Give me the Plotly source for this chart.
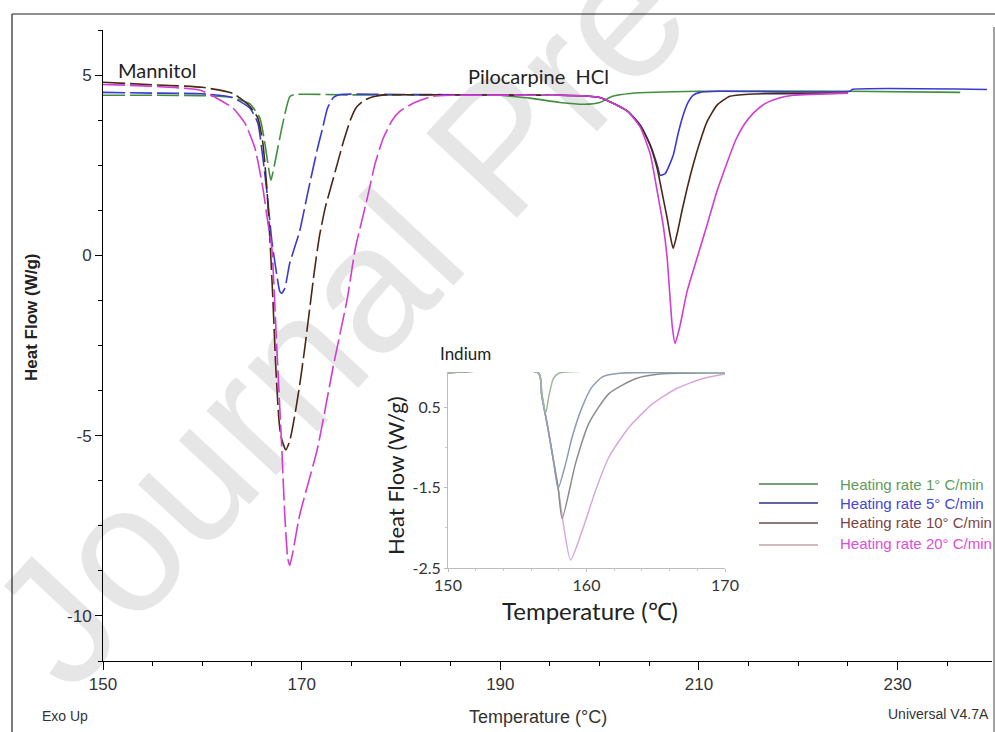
import plotly.graph_objects as go

# ---------------- data ----------------
RATES = ["Heating rate 1° C/min", "Heating rate 5° C/min",
         "Heating rate 10° C/min", "Heating rate 20° C/min"]

# main DSC curves: temperature (°C) and heat flow (W/g)
T1 = [150, 155, 160, 163, 164.8, 165.8, 166.3, 166.6, 166.9, 167.4, 168.1, 168.8, 169.3,
      175, 185, 190, 193, 196, 198.5, 200, 201.3, 203.1, 210, 225, 236.3]
H1 = [4.44, 4.44, 4.43, 4.38, 4.2, 3.8, 3.1, 2.55, 2.08, 2.7, 3.66, 4.4, 4.46,
      4.45, 4.45, 4.44, 4.36, 4.24, 4.19, 4.24, 4.41, 4.49, 4.55, 4.55, 4.52]

T5 = [150, 155, 160, 163, 164.8, 165.6, 166.1, 166.5, 167.0, 167.5, 167.8, 168.0, 168.3,
      168.8, 169.8, 170.6, 171.6, 172.1, 172.6, 173.2, 173.9, 180, 190, 196, 200, 202.8,
      204.1, 205.1, 205.8, 206.1, 206.6, 207.4, 207.9, 208.4, 208.9, 209.4, 210.1, 212,
      225.2, 225.4, 239]
H5 = [4.52, 4.5, 4.48, 4.38, 4.08, 3.66, 2.69, 1.77, 0.39, -0.55, -1.0, -1.05, -0.92,
      -0.22, 0.67, 1.72, 2.97, 3.52, 4.08, 4.38, 4.46, 4.46, 4.45, 4.44, 4.38, 4.0,
      3.6, 3.05, 2.5, 2.22, 2.27, 2.77, 3.38, 3.88, 4.24, 4.44, 4.52, 4.55,
      4.55, 4.6, 4.6]

T10 = [150, 155, 160, 163.1, 164.8, 165.6, 166.1, 166.5, 166.8, 167.1, 167.4, 167.7, 167.9,
       168.4, 168.8, 169.3, 169.8, 170.3, 170.8, 171.3, 171.8, 172.4, 173.0, 173.6, 174.2,
       174.9, 175.5, 176.3, 177.2, 178.5, 185, 196, 200, 202.8, 204.1, 205.1, 205.8, 206.1,
       206.4, 206.8, 207.1, 207.4, 207.8, 208.3, 208.8, 209.4, 210.1, 210.8, 211.8, 213.1,
       215, 225]
H10 = [4.8, 4.73, 4.66, 4.49, 4.13, 3.8, 3.1, 1.86, 0.47, -1.19, -3.13, -4.52, -5.0,
       -5.4, -5.15, -4.45, -3.6, -2.6, -1.5, -0.4, 0.55, 1.35, 1.95, 2.55, 3.15,
       3.75, 4.1, 4.3, 4.4, 4.45, 4.45, 4.44, 4.38, 4.0, 3.6, 3.05, 2.4, 2.0,
       1.58, 1.03, 0.55, 0.19, 0.6, 1.25, 1.85, 2.5, 3.15, 3.7, 4.16, 4.41,
       4.47, 4.5]

T20 = [150, 155, 159.8, 161.5, 163.1, 164.3, 165.3, 166.1, 166.6, 167.0, 167.5, 168.0, 168.3,
       168.6, 168.8, 169.1, 169.8, 171.6, 173.2, 174.6, 175.4, 176.6, 177.4, 178.2, 179.1,
       179.9, 181.4, 183.2, 185, 196, 200, 202.8, 204.1, 205.1, 205.8, 206.4, 206.8, 207.3,
       207.6, 208.1, 208.8, 209.8, 210.8, 211.8, 212.8, 213.7, 214.6, 215.5, 216.6, 217.9,
       219.5, 225]
H20 = [4.74, 4.69, 4.58, 4.35, 4.08, 3.66, 2.97, 1.86, 0.9, 0.19, -2.58, -5.35, -7.2,
       -8.4, -8.6, -8.25, -7.2, -5.35, -3.05, -1.19, 0.19, 1.58, 2.55, 3.24, 3.74,
       4.0, 4.24, 4.41, 4.44, 4.44, 4.38, 4.0, 3.55, 2.8, 1.77, 0.83, -0.08, -1.94,
       -2.44, -1.94, -1.0, -0.08, 0.83, 1.77, 2.55, 3.2, 3.65, 3.95, 4.2, 4.35,
       4.44, 4.5]

# temperature where each trace changes from dashed (mannitol) to solid (pilocarpine)
SPLIT = [190, 196, 196, 196]

# Indium inset curves
TI1 = [150, 156.5, 156.8, 157.05, 157.3, 157.6, 158.0, 170]
HI1 = [1.35, 1.35, 0.8, 0.35, 0.8, 1.2, 1.34, 1.35]
TI5 = [150, 156.55, 156.76, 157.2, 157.6, 157.95, 158.5, 158.97, 159.7, 160.4, 161.15, 162.4, 170]
HI5 = [1.35, 1.34, 0.8, 0.0, -0.8, -1.52, -0.9, -0.24, 0.51, 1.0, 1.25, 1.34, 1.35]
TI10 = [150, 156.55, 156.76, 157.2, 157.6, 157.95, 158.24, 159.21, 160.18, 161.64, 163.58, 165.27, 170]
HI10 = [1.35, 1.34, 0.8, 0.0, -0.8, -1.5, -2.27, -0.9, 0.1, 0.84, 1.21, 1.32, 1.35]
TI20 = [150, 156.55, 156.76, 157.2, 157.6, 157.95, 158.24, 158.85, 159.7, 160.67, 161.64,
        163.1, 164.8, 166.5, 168.4, 170]
HI20 = [1.35, 1.34, 0.8, 0.0, -0.8, -1.5, -2.2, -3.30, -2.56, -1.56, -0.73,
        0.01, 0.59, 0.96, 1.21, 1.32]

MAIN_XTICKS = [150, 170, 190, 210, 230]
MAIN_YTICKS = [-10, -5, 0, 5]
MAIN_YTICKTEXT = ["-10", "-5", "0", "5"]
INSET_XTICKS = [150, 160, 170]
INSET_YTICKS = [0.5, -1.5, -3.5]
INSET_YTICKTEXT = ["0.5", "-1.5", "-2.5"]

for a, b in [(T1, H1), (T5, H5), (T10, H10), (T20, H20), (TI1, HI1), (TI5, HI5),
             (TI10, HI10), (TI20, HI20)]:
    assert len(a) == len(b)

# ---------------- styling ----------------
MAIN_COLORS = ["#3f8f3f", "#3a3ad2", "#4a2818", "#d23cd2"]
INSET_COLORS = ["#9fb79f", "#8e9cb8", "#8c8c8c", "#d8a8dc"]
LEG_LINE = ["#4d7d4d", "#2e2e8a", "#6d4b4b", "#c4a2a2"]
LEG_TEXT = ["#5c9c5c", "#4646d8", "#7a4444", "#dd4ddd"]
NARROW = "Liberation Sans Narrow, Arial Narrow, Liberation Sans, Arial"
CAL = "Lato, Open Sans, Liberation Sans"

W, H = 995, 732
L, R, TOP, B = 103, 3, 30, 71
PW = W - L - R
PH = H - TOP - B


def px(x):
    return (x - L) / PW


def py(y):
    return (H - B - y) / PH


fig = go.Figure()

series = [(T1, H1), (T5, H5), (T10, H10), (T20, H20)]
for i, (t, h) in enumerate(series):
    td = [a for a in t if a <= SPLIT[i]]
    hd = h[:len(td)]
    ts = t[len(td) - 1:]
    hs = h[len(td) - 1:]
    fig.add_trace(go.Scatter(x=td, y=hd, mode="lines", showlegend=False,
                             line=dict(color=MAIN_COLORS[i], width=1.6, dash="22px,5px",
                                       shape="spline", smoothing=0.5),
                             xaxis="x", yaxis="y", hoverinfo="skip"))
    fig.add_trace(go.Scatter(x=ts, y=hs, mode="lines", showlegend=False, name=RATES[i],
                             line=dict(color=MAIN_COLORS[i], width=1.6,
                                       shape="spline", smoothing=0.5),
                             xaxis="x", yaxis="y"))

inset = [(TI1, HI1), (TI5, HI5), (TI10, HI10), (TI20, HI20)]
for i in [3, 2, 1, 0]:
    t, h = inset[i]
    fig.add_trace(go.Scatter(x=t, y=h, mode="lines", showlegend=False, name=RATES[i],
                             line=dict(color=INSET_COLORS[i], width=1.5,
                                       shape="spline", smoothing=0.6),
                             xaxis="x2", yaxis="y2"))

tickfont = dict(family=NARROW, size=17, color="#333")
fig.update_layout(
    width=W, height=H, autosize=False,
    margin=dict(l=L, r=R, t=TOP, b=B, pad=0, autoexpand=False),
    paper_bgcolor="white", plot_bgcolor="rgba(0,0,0,0)",
    showlegend=False,
    xaxis=dict(domain=[0, 1], range=[150, 239.5], showline=True, linecolor="black",
               linewidth=1, ticks="outside", ticklen=8, tickcolor="black",
               tickvals=MAIN_XTICKS, tickfont=tickfont, showgrid=False, zeroline=False,
               minor=dict(dtick=5, tick0=150, ticks="outside", ticklen=4, tickcolor="black",
                          showgrid=False)),
    yaxis=dict(domain=[0, 1], range=[-11.25, 6.25], showline=True, linecolor="black",
               linewidth=1, ticks="outside", ticklen=7, tickcolor="black",
               tickvals=MAIN_YTICKS, ticktext=MAIN_YTICKTEXT, tickfont=tickfont,
               showgrid=False, zeroline=False,
               minor=dict(dtick=1.25, tick0=0, ticks="outside", ticklen=4, tickcolor="black",
                          showgrid=False)),
    xaxis2=dict(domain=[px(448), px(725)], range=[150, 170], anchor="y2",
                showline=True, linecolor="#bdbdbd", linewidth=1, ticks="outside",
                ticklen=3, tickcolor="#bdbdbd", tickvals=INSET_XTICKS,
                tickfont=dict(family=CAL, size=16, color="#333"),
                showgrid=False, zeroline=False,
                minor=dict(dtick=2, tick0=150, ticks="outside", ticklen=2,
                           tickcolor="#cccccc", showgrid=False)),
    yaxis2=dict(domain=[py(568), py(372)], range=[-3.5, 1.37], anchor="x2",
                showline=True, linecolor="#bdbdbd", linewidth=1, ticks="outside",
                ticklen=3, tickcolor="#bdbdbd", tickvals=INSET_YTICKS,
                ticktext=INSET_YTICKTEXT,
                tickfont=dict(family=CAL, size=16, color="#333"),
                showgrid=False, zeroline=False,
                minor=dict(dtick=1, tick0=0.5, ticks="outside", ticklen=2,
                           tickcolor="#cccccc", showgrid=False)),
)

shapes = []
# page frame
shapes.append(dict(type="line", xref="paper", yref="paper", x0=px(12), x1=px(12),
                   y0=py(14), y1=py(732), line=dict(color="#222", width=1.2)))
shapes.append(dict(type="line", xref="paper", yref="paper", x0=px(12), x1=px(995),
                   y0=py(14), y1=py(14), line=dict(color="#222", width=1.2)))
shapes.append(dict(type="line", xref="paper", yref="paper", x0=px(994), x1=px(994),
                   y0=py(27), y1=py(732), line=dict(color="#444", width=1)))
# watermark
shapes.append(dict(type="line", xref="paper", yref="paper", layer="below",
                   x0=px(212), y0=py(426), x1=px(760), y1=py(-158),
                   line=dict(color="rgba(0,0,0,0)", width=0),
                   label=dict(text="Journal Pre-proof", textangle=-47,
                              textposition="middle", yanchor="middle",
                              font=dict(family="Liberation Sans", size=180,
                                        color="#e6e6e6"))))
# legend lines
leg_y = [484, 503, 523, 545]
for i in range(4):
    shapes.append(dict(type="line", xref="paper", yref="paper", x0=px(759), x1=px(818),
                       y0=py(leg_y[i]), y1=py(leg_y[i]),
                       line=dict(color=LEG_LINE[i], width=1.6)))
fig.update_layout(shapes=shapes)

ann = []


def text(x, y, s, size, family, color="#222", xanchor="center", angle=0, weight="normal"):
    ann.append(dict(x=px(x), y=py(y), xref="paper", yref="paper", text=s, showarrow=False,
                    xanchor=xanchor, yanchor="middle", textangle=angle,
                    font=dict(size=size, family=family, color=color, weight=weight)))


text(31, 318, "Heat Flow (W/g)", 17, "Liberation Sans, Arial", "#222", angle=-90,
     weight="bold")
text(538, 717, "Temperature (°C)", 18, NARROW, "#333")
text(40, 716, "Exo Up", 14, NARROW, "#333", xanchor="left")
text(991, 714, "Universal V4.7A", 14, NARROW, "#333", xanchor="right")
text(116, 70, "Mannitol", 20, CAL, "#222", xanchor="left")
text(466, 76, "Pilocarpine  HCl", 20, CAL, "#222", xanchor="left")
text(438, 353, "Indium", 17, CAL, "#222", xanchor="left")
text(590, 610, "Temperature (℃)", 24, CAL, "#222")
text(395, 476, "Heat Flow (W/g)", 22, CAL, "#222", angle=-90)
leg_ty = [484, 503, 522, 543]
for i in range(4):
    text(838, leg_ty[i], RATES[i], 15, "Liberation Sans, Arial", LEG_TEXT[i], xanchor="left")
fig.update_layout(annotations=ann)

fig.write_html(
    "out.html",
    config={"displayModeBar": False},
    post_script="document.body.style.margin='0';document.body.style.overflow='hidden';",
)
